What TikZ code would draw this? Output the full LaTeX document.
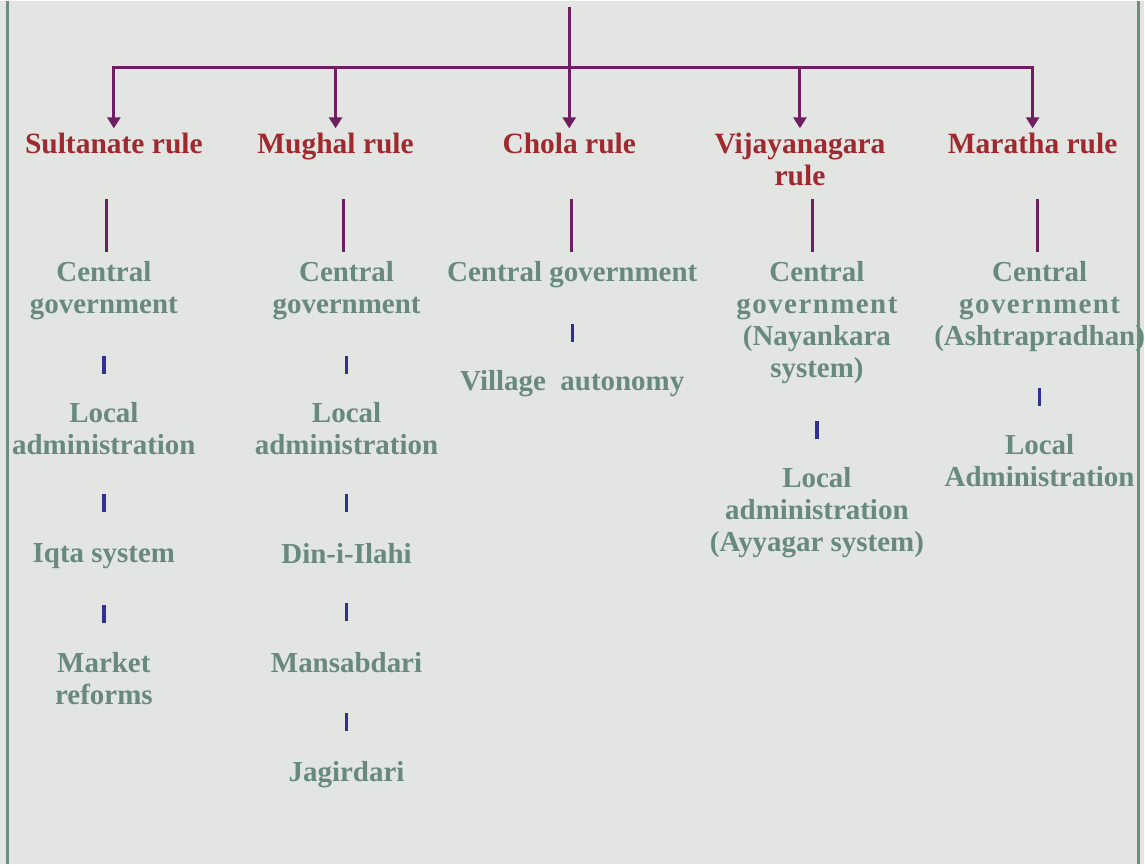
\documentclass[tikz,border=0pt]{standalone}
\usepackage{fontspec}
\setmainfont{Liberation Serif}
\usepackage{xcolor}
\usetikzlibrary{arrows.meta}

\definecolor{paper}{HTML}{E3E5E2}
\definecolor{edge}{HTML}{6F8E82}
\definecolor{rulered}{HTML}{9E2A2F}
\definecolor{itemgreen}{HTML}{688A7C}
\definecolor{linkpurple}{HTML}{6D1F61}
\definecolor{tickblue}{HTML}{2E3192}

\begin{document}
\begin{tikzpicture}[x=0.02cm, y=-0.02cm,
		rulehead/.style={anchor=north, inner sep=0, align=center, text=rulered, font=\fontsize{16.8}{18.2}\selectfont\bfseries},
		itemtext/.style={anchor=north, inner sep=0, align=center, text=itemgreen, font=\fontsize{16.5}{18.2}\selectfont\bfseries},
		link/.style={draw=linkpurple, line width=1.7pt},
		stembox/.style={fill=linkpurple, inner sep=0, minimum width=1.8pt, minimum height=1.06cm},
		tickbar/.style={fill=tickblue, inner sep=0, minimum width=1.9pt, minimum height=0.36cm}]

		\fill[paper] (0,0) rectangle (1145,864);
		\draw[edge, line width=1.7pt] (7.5,0) -- (7.5,864);
		\draw[edge, line width=1.7pt] (1140,0) -- (1140,864);

		\node[rulehead] (sult) at (114,131) {Sultanate rule};
		\node[rulehead] (mugh) at (336,131) {Mughal rule};
		\node[rulehead] (chol) at (570,131) {Chola rule};
		\node[rulehead] (vija) at (801,131) {Vijayanagara\\rule};
		\node[rulehead] (mara) at (1034,131) {Maratha rule};

		\node[itemtext] (sult1) at (104,260) {Central\\government};
		\node[itemtext] (sult2) at (104,401) {Local\\administration};
		\node[itemtext] (sult3) at (104,542) {Iqta system};
		\node[itemtext] (sult4) at (104,651) {Market\\reforms};

		\node[itemtext] (mugh1) at (347,260) {Central\\government};
		\node[itemtext] (mugh2) at (347,401) {Local\\administration};
		\node[itemtext] (mugh3) at (347,542) {Din-i-Ilahi};
		\node[itemtext] (mugh4) at (347,651) {Mansabdari};
		\node[itemtext] (mugh5) at (347,761) {Jagirdari};

		\node[itemtext] (chol1) at (573,260) {Central government};
		\node[itemtext] (chol2) at (573,369) {Village~ autonomy};

		\node[itemtext] (vija1) at (818,260) {Central\\{\addfontfeatures{LetterSpace=5}government}\\(Nayankara\\system)};
		\node[itemtext] (vija2) at (818,466) {Local\\administration\\(Ayyagar system)};

		\node[itemtext] (mara1) at (1041,260) {Central\\{\addfontfeatures{LetterSpace=5}government}\\(Ashtrapradhan)};
		\node[itemtext] (mara2) at (1041,433) {Local\\Administration};

		\coordinate (root) at (570,6);
		\coordinate (hub) at (570,66);
		\draw[link] (root) -- (hub);
		\foreach \r in {sult,mugh,chol,vija,mara}
			\draw[link, -{Triangle[width=0.26cm,length=0.22cm]}, shorten >=0.08cm] (hub) -| (\r.north);

		\foreach \r in {sult,mugh,chol,vija,mara}
			\path (\r.north) -- node[pos=0.72, stembox] {} (\r1.north);

		\foreach \a/\b in {sult1/sult2, sult2/sult3, sult3/sult4,
				mugh1/mugh2, mugh2/mugh3, mugh3/mugh4, mugh4/mugh5,
				chol1/chol2, vija1/vija2, mara1/mara2}
			\path (\a.south) -- node[pos=0.55, tickbar] {} (\b.north);

	\end{tikzpicture}
\end{document}
